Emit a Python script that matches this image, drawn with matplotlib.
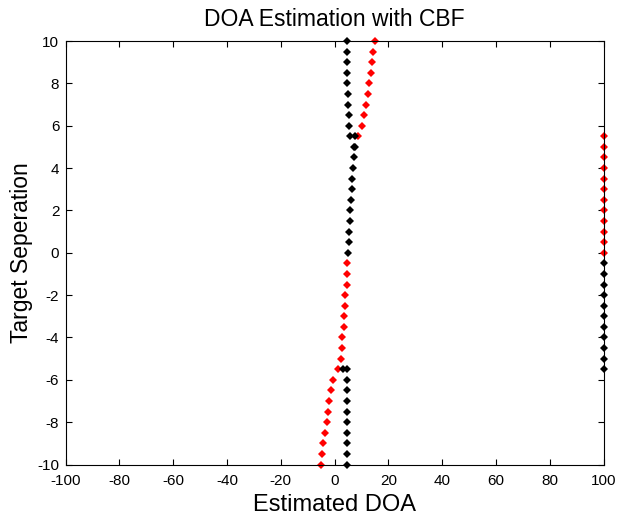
import matplotlib
matplotlib.use("Agg")
import matplotlib.pyplot as plt

plt.rcParams["font.family"] = ["Liberation Sans", "DejaVu Sans"]
plt.rcParams["axes.unicode_minus"] = False

# black estimates: (target separation, estimated DOA)
black_sep = [10, 9.5, 9, 8.5, 8, 7.5, 7, 6.5, 6,
             5.5, 5.5, 5, 5, 4.5, 4, 3.5, 3, 2.5, 2, 1.5, 1, 0.5, 0,
             -0.5, -1, -1.5, -2, -2.5, -3, -3.5, -4, -4.5, -5, -5.5,
             -5.5, -5.5, -6, -6.5, -7, -7.5, -8, -8.5, -9, -9.5, -10]
black_doa = [4.8, 4.8, 4.8, 4.8, 4.8, 5.0, 5.0, 5.3, 5.5,
             5.8, 7.6, 7.1, 7.5, 7.2, 6.9, 6.6, 6.5, 6.1, 5.8, 5.8, 5.4, 5.3, 4.9,
             100, 100, 100, 100, 100, 100, 100, 100, 100, 100, 100,
             3.2, 4.6, 4.6, 4.6, 4.7, 4.7, 4.7, 4.7, 4.7, 4.7, 4.7]

# red estimates
red_sep = [10, 9.5, 9, 8.5, 8, 7.5, 7, 6.5, 6,
           5.5, 5.5, 5, 4.5, 4, 3.5, 3, 2.5, 2, 1.5, 1, 0.5, 0,
           -0.5, -1, -1.5, -2, -2.5, -3, -3.5, -4, -4.5, -5, -5.5,
           -6, -6.5, -7, -7.5, -8, -8.5, -9, -9.5, -10]
red_doa = [15.1, 14.4, 13.9, 13.5, 12.9, 12.3, 11.7, 11.0, 10.2,
           8.9, 100, 100, 100, 100, 100, 100, 100, 100, 100, 100, 100, 100,
           4.8, 4.5, 4.5, 4.0, 3.9, 3.4, 3.4, 2.9, 2.9, 2.3, 1.2,
           -0.7, -1.4, -2.0, -2.5, -2.9, -3.5, -4.2, -4.5, -5.0]

x_ticks = [-100, -80, -60, -40, -20, 0, 20, 40, 60, 80, 100]
y_ticks = [-10, -8, -6, -4, -2, 0, 2, 4, 6, 8, 10]

fig = plt.figure(figsize=(6.17, 5.21), dpi=100)
ax = fig.add_axes([0.1062, 0.1084, 0.8720, 0.8129])

ax.plot(red_doa, red_sep, "D", color="#ff0000", markersize=3.8,
        markeredgewidth=0, clip_on=False)
ax.plot(black_doa, black_sep, "D", color="black", markersize=3.8,
        markeredgewidth=0, clip_on=False)

ax.set_xlim(-100, 100)
ax.set_ylim(-10, 10)
ax.set_xticks(x_ticks)
ax.set_yticks(y_ticks)
ax.tick_params(direction="in", top=True, right=True, length=4,
               width=0.8, labelsize=11)
ax.tick_params(axis="x", pad=6.5)
ax.tick_params(axis="y", pad=4.5)
for s in ax.spines.values():
    s.set_linewidth(0.8)

ax.set_title("DOA Estimation with CBF", fontsize=16.5, pad=11)
ax.set_xlabel("Estimated DOA", fontsize=17, labelpad=5)
ax.set_ylabel("Target Seperation", fontsize=16.5, labelpad=3)

plt.savefig("out.png", dpi=100)
